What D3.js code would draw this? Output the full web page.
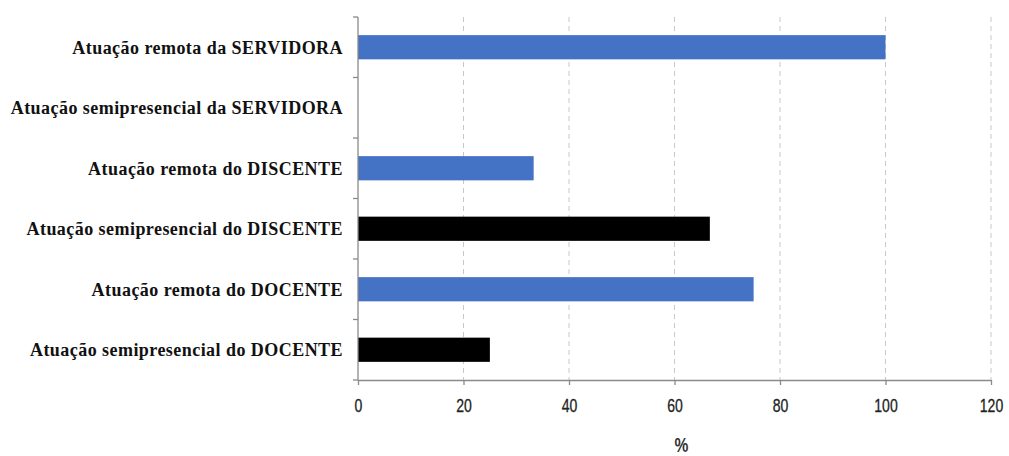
<!DOCTYPE html>
<html lang="pt">
<head>
<meta charset="UTF-8" />
<title>Atuação</title>
<script src="https://d3js.org/d3.v7.min.js"></script>
<style>
    body { margin: 0; background: #fff; }
    .cat { font-family: "Liberation Serif", "Times New Roman", serif; font-size: 18px; font-weight: bold; fill: #111; letter-spacing: 0.45px; }
    .tick text { font-family: "Liberation Sans", Arial, sans-serif; font-size: 18px; fill: #222; }
</style>
</head>
<body>
<script>
    // data (top to bottom)
    var categories = [
        "Atuação remota da SERVIDORA",
        "Atuação semipresencial da SERVIDORA",
        "Atuação remota do DISCENTE",
        "Atuação semipresencial do DISCENTE",
        "Atuação remota do DOCENTE",
        "Atuação semipresencial do DOCENTE"
    ];
    var values = [100, 0, 33.3, 66.7, 75, 25];
    var barColors = ["#4472C4", "#000000", "#4472C4", "#000000", "#4472C4", "#000000"];
    var xTicks = [0, 20, 40, 60, 80, 100, 120];
    var xTitle = "%";

    var w = 1009, h = 456;
    var margin = { top: 17, right: 18, bottom: 76, left: 358 };
    var sx = 0.78; // horizontal squeeze of the tick text

    var svg = d3.select("body").append("svg")
        .attr("width", w)
        .attr("height", h);

    var xScale = d3.scaleLinear()
        .domain([0, 120])
        .range([margin.left, w - margin.right]);

    var yScale = d3.scaleBand()
        .domain(categories)
        .range([margin.top, h - margin.bottom])
        .paddingInner(0.6)
        .paddingOuter(0.3);

    // gridlines
    svg.selectAll(".grid")
        .data(xTicks.slice(1))
        .enter()
        .append("line")
        .attr("x1", function (d) { return xScale(d); })
        .attr("x2", function (d) { return xScale(d); })
        .attr("y1", margin.top)
        .attr("y2", h - margin.bottom)
        .style("stroke", "#c8c8c8")
        .style("stroke-width", 1)
        .style("stroke-dasharray", "5,4");

    // bars
    svg.selectAll(".bar")
        .data(values)
        .enter()
        .append("rect")
        .attr("x", xScale(0))
        .attr("y", function (d, i) { return yScale(categories[i]); })
        .attr("width", function (d) { return xScale(d) - xScale(0); })
        .attr("height", yScale.bandwidth())
        .style("fill", function (d, i) { return barColors[i]; });

    // x axis
    var xAxis = svg.append("g")
        .attr("transform", "translate(0," + (h - margin.bottom) + ")")
        .call(d3.axisBottom(xScale).tickValues(xTicks).tickSize(5).tickSizeOuter(0).tickPadding(14));
    xAxis.selectAll("path, line").style("stroke", "#8a8a8a").style("stroke-width", 1.3);
    xAxis.selectAll("text").attr("transform", "scale(" + sx + ",1)")
        .style("stroke", "#222").style("stroke-width", 0.3);

    // y axis line with ticks at band boundaries
    var bounds = d3.range(categories.length + 1).map(function (i) { return margin.top + i * (h - margin.top - margin.bottom) / categories.length; });
    svg.append("line")
        .attr("x1", margin.left).attr("x2", margin.left)
        .attr("y1", margin.top).attr("y2", h - margin.bottom)
        .style("stroke", "#8a8a8a").style("stroke-width", 1.3);
    svg.selectAll(".ytick")
        .data(bounds)
        .enter()
        .append("line")
        .attr("x1", margin.left - 5).attr("x2", margin.left)
        .attr("y1", function (d) { return d; }).attr("y2", function (d) { return d; })
        .style("stroke", "#8a8a8a").style("stroke-width", 1.3);

    // category labels
    svg.selectAll(".cat")
        .data(categories)
        .enter()
        .append("text")
        .attr("class", "cat")
        .attr("text-anchor", "end")
        .attr("x", margin.left - 15)
        .attr("y", function (d) { return yScale(d) + yScale.bandwidth() / 2; })
        .attr("dy", "0.35em")
        .text(function (d) { return d; });

    // x axis title
    svg.append("text")
        .attr("transform", "translate(" + (xScale(60) + 7) + "," + (h - 4) + ") scale(" + sx + ",1)")
        .attr("text-anchor", "middle")
        .style("font-family", "Liberation Sans, Arial, sans-serif")
        .style("font-size", "20px")
        .style("font-weight", "bold")
        .style("fill", "#333")
        .text(xTitle);
</script>
</body>
</html>
